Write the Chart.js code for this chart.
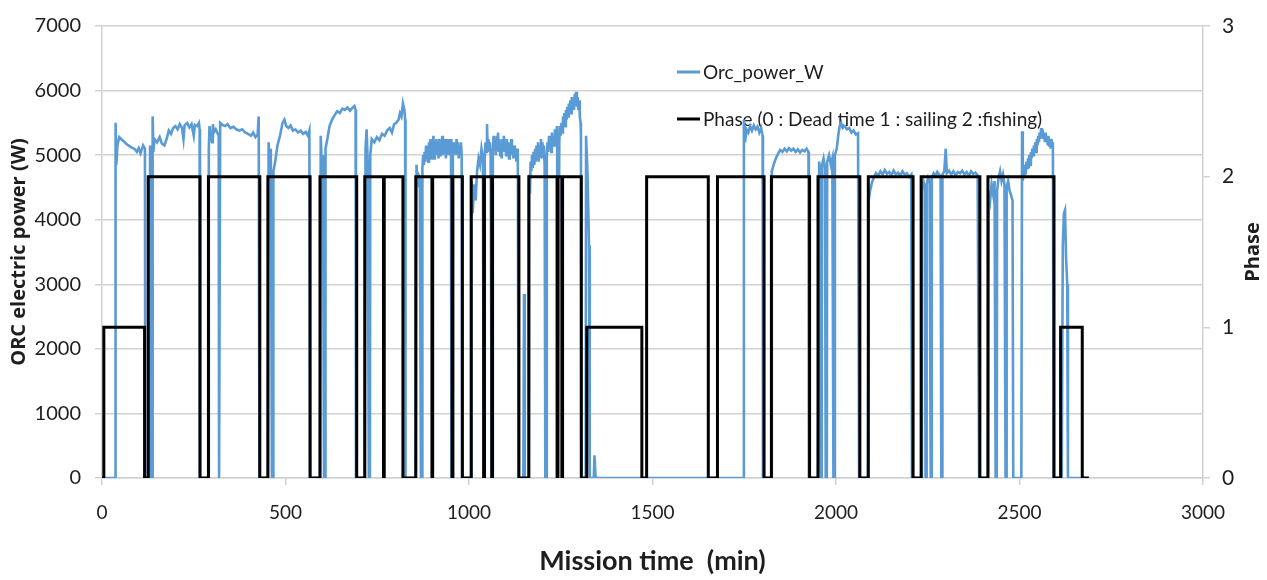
<!DOCTYPE html>
<html>
<head>
<meta charset="utf-8">
<script src="https://cdn.jsdelivr.net/npm/chart.js@4.4.1/dist/chart.umd.min.js"></script>
<style>
  body { margin: 0; background: #fff; }
  #wrap { width: 1267px; height: 580px; }
</style>
</head>
<body>
<div id="wrap"><canvas id="chart" width="1267" height="580"></canvas></div>
<script>
// ORC power readings, [minute, watts]
const orcPower = [
  [0, 0], [36, 0],
  [37, 5500], [39, 4850], [42, 5150], [47, 5280], [52, 5250], [58, 5220], [65, 5180], [72, 5150], [80, 5120], [88, 5100], [95, 5050], [100, 5110], [105, 5030], [112, 5150], [117, 5100], [118, 0],
  [130, 0], [131, 5150], [133, 0], [137, 0],
  [138, 5600], [140, 5050], [143, 5250], [150, 5200], [157, 5280], [163, 5180], [170, 5150], [176, 5250], [182, 5380], [188, 5330], [194, 5420], [200, 5450], [206, 5400], [212, 5480], [218, 5420], [222, 5250], [225, 5460], [232, 5500], [238, 5430], [244, 5480], [250, 5300], [253, 5470], [259, 5450], [264, 5500], [266, 5400], [267, 0],
  [290, 0], [291, 5100], [293, 5450], [296, 5300], [300, 5200], [302, 5480], [305, 5350], [310, 5400], [318, 5300], [319, 0], [321, 0], [322, 5500], [328, 5470], [335, 5450], [342, 5480], [350, 5420], [358, 5440], [366, 5400], [374, 5380], [382, 5400], [390, 5350], [398, 5330], [406, 5300], [412, 5350], [418, 5280], [424, 5320], [427, 5600], [429, 0],
  [452, 0], [454, 5200], [457, 4900], [460, 5100], [463, 0], [466, 0], [467, 4750], [472, 4900], [478, 5150], [485, 5300], [492, 5500], [497, 5550], [502, 5450], [508, 5420], [514, 5460], [520, 5380], [527, 5400], [534, 5350], [541, 5380], [548, 5330], [555, 5360], [561, 5300], [565, 5380], [567, 0],
  [594, 0], [596, 5300], [599, 4850], [602, 5000], [605, 0], [608, 0], [609, 5100], [614, 5250], [620, 5450], [627, 5550], [634, 5620], [641, 5680], [648, 5650], [655, 5720], [662, 5700], [669, 5740], [676, 5690], [682, 5730], [688, 5760], [691, 5700], [692, 0],
  [716, 0], [718, 5100], [721, 5400], [724, 4900], [727, 0], [730, 0], [731, 5000], [735, 5250], [742, 5200], [749, 5280], [756, 5230], [763, 5330], [770, 5300], [777, 5380], [784, 5420], [790, 5350], [796, 5480], [802, 5500], [808, 5550], [812, 5650], [816, 5600], [820, 5800], [824, 5700], [826, 5550], [827, 0],
  [855, 0], [857, 4850], [860, 4500], [862, 4700], [866, 4650], [869, 0], [872, 0],
  [873, 4800], [875, 5000], [877, 4850], [879, 5050], [881, 4900], [883, 5150], [885, 4950], [887, 5100], [889, 4900], [891, 5200], [893, 5000], [895, 5250], [897, 4950], [899, 5150],
  [901, 5050], [903, 5300], [905, 4950], [907, 5200], [909, 5000], [911, 5250], [913, 5050], [915, 5150], [917, 4950], [919, 5250], [921, 5000], [923, 5200], [925, 5050], [927, 5300],
  [929, 5000], [931, 5200], [933, 5100], [935, 5250], [937, 4950], [939, 5150], [941, 5050], [943, 5250], [945, 5000], [947, 5200], [949, 5100], [951, 5250], [952, 0],
  [955, 0], [956, 5000], [958, 5200], [960, 5050], [962, 5150], [964, 5000], [966, 5250], [968, 5050], [970, 5200], [972, 4950], [974, 5150], [976, 5050], [978, 5200], [980, 5000], [981, 0],
  [1006, 0], [1007, 4600], [1010, 4100], [1014, 4550], [1018, 4300], [1022, 4750], [1026, 4950], [1030, 4850], [1034, 5100], [1038, 4950], [1040, 0], [1042, 0], [1043, 5000], [1045, 5200], [1047, 5050], [1049, 5480], [1051, 5050], [1053, 5250], [1055, 5100], [1057, 5200], [1059, 5000], [1062, 0],
  [1064, 0], [1065, 5050], [1067, 5300], [1069, 5100], [1071, 5250], [1073, 5000], [1075, 5300], [1077, 5150], [1079, 5350], [1081, 5050], [1083, 5250], [1085, 5000], [1087, 5200], [1089, 4950], [1091, 5250],
  [1093, 5100], [1095, 5300], [1097, 5050], [1099, 5200], [1101, 5000], [1103, 5250], [1105, 5050], [1107, 5200], [1109, 4950], [1111, 5150], [1113, 5050], [1115, 5250], [1117, 5000], [1119, 5150],
  [1121, 4950], [1123, 5150], [1125, 5000], [1127, 5100], [1129, 4900], [1131, 5100], [1133, 5000], [1135, 0],
  [1148, 0], [1150, 2850], [1152, 0],
  [1163, 0], [1164, 4700], [1166, 4400], [1168, 4900], [1170, 4750], [1172, 5000], [1174, 4800], [1176, 5050], [1178, 4850], [1180, 5100], [1182, 4900], [1184, 5150], [1186, 4950], [1188, 5200],
  [1190, 4900], [1192, 5150], [1194, 5000], [1196, 5250], [1198, 4950], [1200, 5200], [1202, 5000], [1204, 5150], [1206, 4850], [1208, 0],
  [1211, 0], [1212, 5000], [1214, 5200], [1216, 5050], [1218, 5300], [1220, 5100], [1222, 5250], [1224, 5050], [1226, 5350], [1228, 5150], [1230, 5300], [1232, 5150], [1234, 5400], [1236, 5200], [1238, 5350], [1240, 5450], [1243, 0],
  [1245, 0], [1246, 5200], [1248, 5450], [1250, 5300], [1252, 5500], [1254, 5350], [1256, 5600], [1258, 5450], [1260, 5650], [1262, 5450], [1264, 5700], [1266, 5550], [1268, 5750], [1270, 5600],
  [1272, 5800], [1274, 5650], [1276, 5850], [1278, 5650], [1280, 5900], [1282, 5750], [1284, 5850], [1286, 5700], [1288, 5950], [1290, 5800], [1292, 5980], [1294, 5750], [1296, 5900],
  [1298, 5700], [1300, 5850], [1302, 5600], [1304, 5500], [1305, 5300], [1306, 0],
  [1318, 0], [1319, 5300], [1323, 4700], [1327, 3600], [1329, 0], [1340, 0], [1342, 350], [1345, 0],
  [1748, 0], [1749, 5550], [1752, 5200], [1756, 5400], [1761, 5350], [1766, 5450], [1771, 5380], [1776, 5460], [1781, 5400], [1786, 5440], [1791, 5350], [1796, 5420], [1800, 5300], [1801, 0],
  [1823, 0], [1825, 4750], [1830, 4850], [1836, 4950], [1842, 5020], [1848, 5080], [1854, 5050], [1860, 5100], [1866, 5060], [1872, 5110], [1878, 5070], [1884, 5100], [1890, 5050], [1896, 5090], [1902, 5040], [1908, 5080], [1914, 5060], [1920, 5100], [1925, 5050], [1926, 0],
  [1951, 0], [1954, 4900], [1957, 4700], [1959, 0], [1961, 0], [1962, 4850], [1966, 4950], [1970, 4800], [1972, 0], [1975, 0], [1976, 4900], [1981, 5000], [1986, 4850], [1990, 4950], [1993, 0],
  [1996, 0], [1997, 5000], [2002, 5100], [2006, 5300], [2010, 5450], [2014, 5500], [2018, 5420], [2024, 5450], [2030, 5400], [2036, 5420], [2042, 5350], [2048, 5380], [2054, 5320], [2060, 5340], [2063, 0],
  [2087, 0], [2089, 4300], [2093, 4450], [2098, 4580], [2103, 4650], [2109, 4720], [2115, 4680], [2121, 4750], [2127, 4700], [2133, 4770], [2139, 4710], [2145, 4740], [2151, 4690], [2157, 4760], [2163, 4700], [2169, 4730], [2175, 4680], [2181, 4750], [2187, 4700], [2193, 4720], [2199, 4660], [2205, 4700], [2207, 0],
  [2232, 0], [2234, 4450], [2238, 4600], [2242, 4500], [2244, 0], [2246, 0], [2247, 4550], [2251, 4650], [2255, 4600], [2258, 0], [2260, 0], [2261, 4650], [2266, 4720], [2271, 4680], [2276, 4740], [2281, 4700], [2285, 4650], [2287, 0],
  [2289, 0], [2290, 4700], [2295, 4750], [2299, 5100], [2302, 4720], [2308, 4760], [2314, 4700], [2320, 4750], [2326, 4690], [2332, 4740], [2338, 4720], [2344, 4760], [2350, 4700], [2356, 4740], [2362, 4680], [2368, 4750], [2374, 4710], [2380, 4730], [2386, 4690], [2390, 0],
  [2414, 0], [2416, 4450], [2420, 4300], [2424, 4550], [2428, 4400], [2432, 4600], [2435, 0], [2438, 0], [2439, 4450], [2443, 4650], [2447, 4750], [2451, 4600], [2455, 4700], [2459, 4550], [2462, 0],
  [2464, 0], [2465, 4500], [2469, 4600], [2473, 4450], [2477, 4380], [2481, 4300], [2483, 0],
  [2505, 0], [2507, 5370], [2509, 4600], [2511, 4750], [2513, 4650], [2515, 4850], [2517, 4700], [2519, 4900], [2521, 4800], [2523, 4950], [2525, 4800], [2527, 5000], [2529, 4850], [2531, 5050],
  [2533, 4950], [2535, 5100], [2537, 5000], [2539, 5150], [2541, 5050], [2543, 5200], [2545, 5050], [2547, 5250], [2549, 5150], [2551, 5300], [2553, 5200], [2555, 5350], [2557, 5250], [2559, 5420],
  [2561, 5300], [2563, 5400], [2565, 5250], [2567, 5350], [2569, 5200], [2571, 5350], [2573, 5200], [2575, 5300], [2577, 5150], [2579, 5300], [2581, 5150], [2583, 5250], [2585, 5100], [2587, 5250],
  [2589, 5150], [2591, 5200], [2593, 0],
  [2615, 0], [2618, 3600], [2621, 4100], [2624, 4150], [2627, 3400], [2630, 3000], [2632, 0], [2680, 0]
];

// phase changes, [start minute, phase]; each value holds until the next start
const phaseSteps = [
  [0, 0], [5, 1], [116, 0], [126, 2], [267, 0], [290, 2], [430, 0], [452, 2], [567, 0], [594, 2],
  [694, 0], [716, 2], [767, 0], [769, 2], [820, 0], [855, 2], [899, 0], [901, 2], [954, 0], [956, 2],
  [982, 0], [1006, 2], [1040, 0], [1042, 2], [1062, 0], [1064, 2], [1136, 0], [1163, 2], [1240, 0], [1242, 2],
  [1253, 0], [1255, 2], [1306, 0], [1321, 1], [1471, 0], [1484, 2], [1652, 0], [1677, 2], [1804, 0], [1824, 2],
  [1928, 0], [1951, 2], [2065, 0], [2088, 2], [2210, 0], [2232, 2], [2392, 0], [2414, 2], [2594, 0], [2612, 1],
  [2671, 0], [2689, 0]
];

const seriesLabels = ['Orc_power_W', 'Phase (0 : Dead time 1 : sailing 2 :fishing)'];
const xTitle = 'Mission time  (min)';
const yTitle = 'ORC electric power (W)';
const y1Title = 'Phase';

const gridColor = '#d2d2d2';
const textColor = '#1e1e1e';

// plain numbers on the axes, no thousands separator
const plainTick = v => String(v);

// legend sits inside the plot, data drawn over it
const inPlotLegend = {
  id: 'inPlotLegend',
  beforeDatasetsDraw(chart) {
    const { ctx, chartArea } = chart;
    const x0 = chartArea.left + 575;
    const rows = [chartArea.top + 46, chartArea.top + 93];
    ctx.save();
    chart.data.datasets.forEach((ds, i) => {
      ctx.strokeStyle = ds.borderColor;
      ctx.lineWidth = 3;
      ctx.beginPath();
      ctx.moveTo(x0, rows[i]);
      ctx.lineTo(x0 + 23, rows[i]);
      ctx.stroke();
      ctx.fillStyle = textColor;
      ctx.font = '19px Lato';
      ctx.textBaseline = 'middle';
      ctx.fillText(ds.label, x0 + 26, rows[i] + 1);
    });
    ctx.restore();
  },
  afterDraw(chart) {
    // secondary axis title reads bottom to top, like the primary one
    const { ctx } = chart;
    const s = chart.scales.y1;
    ctx.save();
    ctx.translate(s.right - 14, (s.top + s.bottom) / 2);
    ctx.rotate(-Math.PI / 2);
    ctx.fillStyle = textColor;
    ctx.font = 'bold 20px "Open Sans"';
    ctx.textAlign = 'center';
    ctx.textBaseline = 'middle';
    ctx.fillText(y1Title, 0, 0);
    ctx.restore();
  }
};

new Chart(document.getElementById('chart'), {
  type: 'line',
  data: {
    datasets: [
      {
        label: seriesLabels[0],
        data: orcPower.map(p => ({ x: p[0], y: p[1] })),
        borderColor: '#5b9bd5',
        borderWidth: 2.6,
        pointRadius: 0,
        yAxisID: 'y',
        order: 2
      },
      {
        label: seriesLabels[1],
        data: phaseSteps.map(p => ({ x: p[0], y: p[1] })),
        borderColor: '#000000',
        borderWidth: 3,
        pointRadius: 0,
        stepped: true,
        yAxisID: 'y1',
        order: 1
      }
    ]
  },
  options: {
    responsive: false,
    animation: false,
    layout: { padding: { top: 24, left: 0, right: 0, bottom: 0 } },
    plugins: {
      legend: { display: false },
      tooltip: { enabled: false }
    },
    scales: {
      x: {
        type: 'linear',
        min: 0,
        max: 3000,
        ticks: { stepSize: 500, callback: plainTick, color: textColor, font: { family: 'Lato', size: 19 }, padding: 16 },
        grid: { drawOnChartArea: false, drawTicks: true, tickLength: 7, color: gridColor, lineWidth: 1.5 },
        border: { color: gridColor, width: 1.5 },
        title: { display: true, text: xTitle, color: textColor, font: { family: 'Lato', size: 27, weight: 'bold' }, padding: { top: 4, bottom: 3 } },
        afterFit(scale) { scale.height = 102; }
      },
      y: {
        position: 'left',
        min: 0,
        max: 7000,
        ticks: { stepSize: 1000, callback: plainTick, color: textColor, font: { family: 'Lato', size: 20 }, padding: 14 },
        grid: { color: gridColor, lineWidth: 1.5, tickLength: 7 },
        border: { color: gridColor, width: 1.5 },
        title: { display: true, text: yTitle, color: textColor, font: { family: 'Open Sans', size: 20, weight: 'bold' }, padding: { top: 7, bottom: 0 } },
        afterFit(scale) { scale.width = 102; }
      },
      y1: {
        position: 'right',
        min: 0,
        max: 3,
        ticks: { stepSize: 1, callback: plainTick, color: textColor, font: { family: 'Lato', size: 21 }, padding: 12 },
        grid: { drawOnChartArea: false, tickLength: 7, color: gridColor, lineWidth: 1.5 },
        border: { color: gridColor, width: 1.5 },
        afterFit(scale) { scale.width = 64; }
      }
    }
  },
  plugins: [inPlotLegend]
});
</script>
</body>
</html>
